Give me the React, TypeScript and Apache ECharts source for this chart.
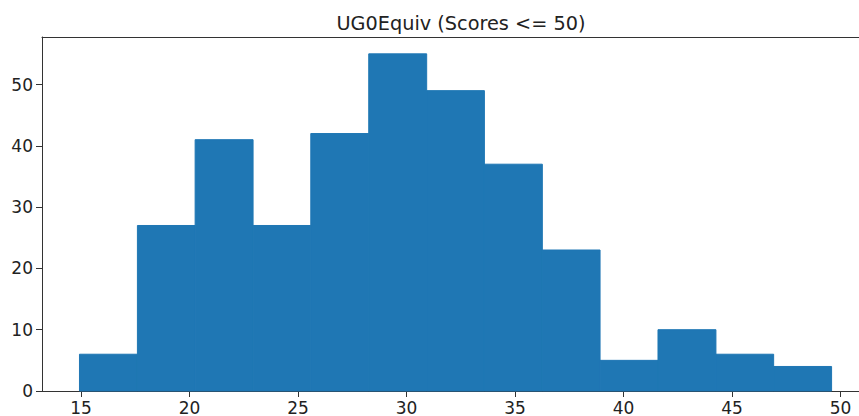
import React, { useEffect, useRef } from "react";
import * as echarts from "echarts";

const binStarts = [14.93, 17.6, 20.26, 22.93, 25.59, 28.26, 30.93, 33.59, 36.26, 38.92, 41.59, 44.26, 46.92];
const binEnds = [17.6, 20.26, 22.93, 25.59, 28.26, 30.93, 33.59, 36.26, 38.92, 41.59, 44.26, 46.92, 49.59];
const counts = [6, 27, 41, 27, 42, 55, 49, 37, 23, 5, 10, 6, 4];
const xTicks = [15, 20, 25, 30, 35, 40, 45, 50];
const yTicks = [0, 10, 20, 30, 40, 50];
const title = "UG0Equiv (Scores <= 50)";

export default function App() {
  const ref = useRef<HTMLDivElement>(null);
  useEffect(() => {
    if (!ref.current) return;
    const chart = echarts.init(ref.current, undefined, { renderer: "svg" });
    const data = binStarts.map((s, i) => [s, binEnds[i], counts[i]]);
    const font = "'DejaVu Sans', sans-serif";
    const axisLine = { show: true, lineStyle: { color: "#333", width: 1 } };
    chart.setOption({
      animation: false,
      backgroundColor: "#fff",
      title: {
        text: title,
        left: 456,
        textAlign: "center",
        top: 9,
        textStyle: { fontFamily: font, fontSize: 19.3, fontWeight: "normal", color: "#222" },
      },
      grid: { left: 42, right: 0, top: 37, bottom: 23 },
      xAxis: [
        {
          type: "value",
          min: 13.203,
          max: 50.853,
          axisLine,
          splitLine: { show: false },
          axisTick: { show: true, length: 6, lineStyle: { color: "#333" }, customValues: xTicks },
          axisLabel: {
            customValues: xTicks,
            fontFamily: font,
            fontSize: 17,
            color: "#222",
            margin: 8,
          },
        },
        {
          type: "value",
          position: "top",
          min: 13.203,
          max: 50.853,
          axisLine,
          splitLine: { show: false },
          axisTick: { show: false },
          axisLabel: { show: false },
        },
      ],
      yAxis: {
        type: "value",
        min: 0,
        max: 57.75,
        axisLine,
        splitLine: { show: false },
        axisTick: { show: true, length: 6, lineStyle: { color: "#333" }, customValues: yTicks },
        axisLabel: {
          customValues: yTicks,
          fontFamily: font,
          fontSize: 17,
          color: "#222",
          margin: 9,
        },
      },
      series: [
        {
          type: "custom",
          xAxisIndex: 0,
          data,
          encode: { x: [0, 1], y: 2 },
          renderItem: (params: any, api: any) => {
            const p0 = api.coord([api.value(0), api.value(2)]);
            const p1 = api.coord([api.value(1), 0]);
            return {
              type: "rect",
              shape: { x: p0[0], y: p0[1], width: p1[0] - p0[0], height: p1[1] - p0[1] },
              style: { fill: "#1f77b4", stroke: "#1f77b4", lineWidth: 1 },
            };
          },
        },
      ],
    });
    return () => chart.dispose();
  }, []);
  return (
    <div
      ref={ref}
      style={{ position: "fixed", left: 0, top: 0, width: 859, height: 416, background: "#fff" }}
    />
  );
}
